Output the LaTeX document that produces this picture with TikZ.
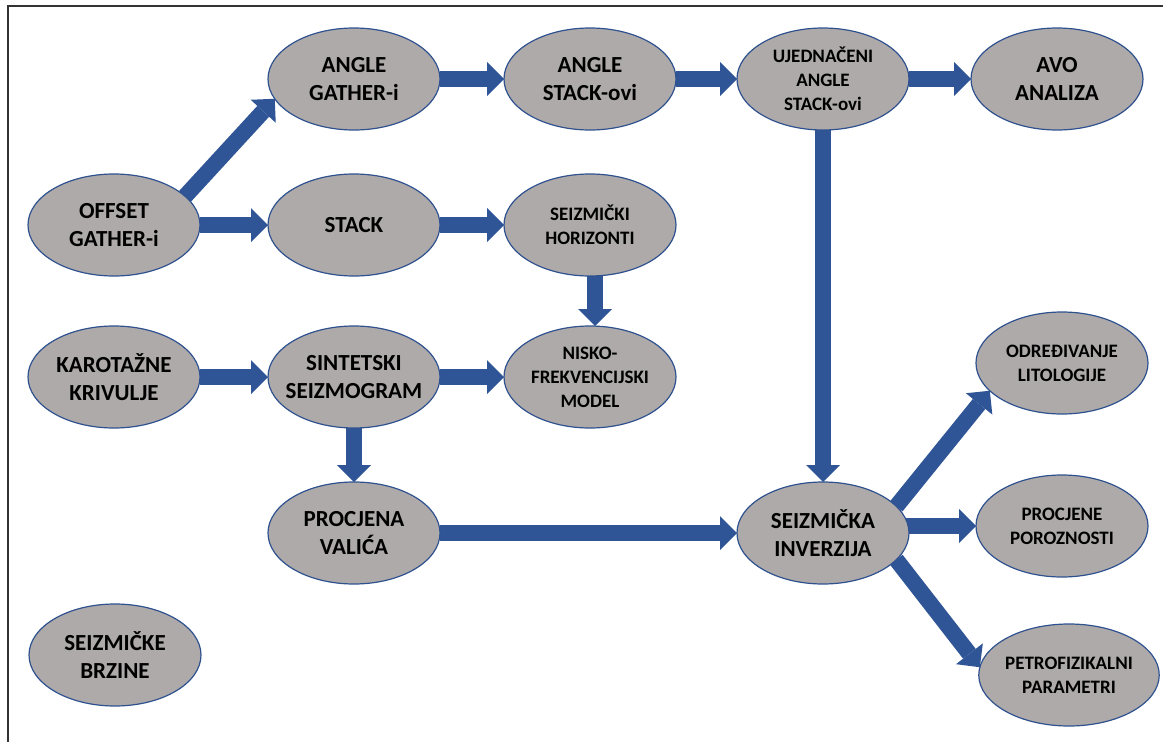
\documentclass[tikz,border=0pt]{standalone}
\usepackage{fontspec}
\setmainfont{Carlito}
\usetikzlibrary{shapes.geometric,arrows.meta,backgrounds}
\definecolor{arrowblue}{HTML}{2F5597}
\definecolor{edgeblue}{HTML}{2F528F}
\definecolor{boxgray}{HTML}{AEAAAA}
\begin{document}
\begin{tikzpicture}[x=1pt,y=-1pt,
  proc/.style={ellipse, draw=edgeblue, fill=boxgray, line width=1.2pt,
    minimum width=172pt, minimum height=102pt, inner sep=0pt, outer sep=0pt,
    align=center, font=\bfseries\fontsize{23}{28}\selectfont},
  small/.style={font=\bfseries\fontsize{19}{24}\selectfont},
  flow/.style={draw=arrowblue, line width=16pt,
    -{Triangle[width=34pt,length=17pt,line width=0pt]}},
  frame/.style={line width=1.3pt, draw=black!80}
]
\useasboundingbox (0,0) rectangle (1163,742);

% row 1
\node[proc] (ag) at (354,79) {ANGLE\\GATHER-i};
\node[proc] (as) at (590,79) {ANGLE\\STACK-ovi};
\node[proc,small] (uj) at (823,79) {UJEDNAČENI\\ANGLE\\STACK-ovi};
\node[proc] (avo) at (1057,79) {AVO\\ANALIZA};
% row 2
\node[proc] (og) at (114,225) {OFFSET\\GATHER-i};
\node[proc] (st) at (354,225) {STACK};
\node[proc,small] (sh) at (590,225) {SEIZMIČKI\\HORIZONTI};
% row 3
\node[proc] (kk) at (114,377) {KAROTAŽNE\\KRIVULJE};
\node[proc,inner xsep=-9pt] (ss) at (354,377) {SINTETSKI\\SEIZMOGRAM};
\node[proc,small] (nm) at (590,377) {NISKO-\\FREKVENCIJSKI\\MODEL};
% row 4
\node[proc] (pv) at (354,533) {PROCJENA\\VALIĆA};
\node[proc] (si) at (823,533) {SEIZMIČKA\\INVERZIJA};
% right column
\node[proc,small] (lit) at (1062,363) {ODREĐIVANJE\\LITOLOGIJE};
\node[proc,small] (por) at (1062,526) {PROCJENE\\POROZNOSTI};
\node[proc,small] (pet) at (1069,675) {PETROFIZIKALNI\\PARAMETRI};
% lone
\node[proc] (brz) at (115,655) {SEIZMIČKE\\BRZINE};

\begin{scope}[on background layer]
\fill[white] (0,0) rectangle (1163,742);
\draw[frame] (8,742) -- (8,6) -- (1163,6);
\draw[flow] (og.22) -- (ag.194);
\draw[flow] (og) -- (st);
\draw[flow] (ag) -- (as);
\draw[flow] (as) -- (uj);
\draw[flow] (uj) -- (avo);
\draw[flow] (st) -- (sh);
\draw[flow] ([xshift=5pt]sh.south) -- ([xshift=5pt]nm.north);
\draw[flow] (kk) -- (ss);
\draw[flow] (ss) -- (nm);
\draw[flow] (ss) -- (pv);
\draw[flow] (pv) -- (si);
\draw[flow] (uj) -- (si);
\draw[flow] (si.20) -- (lit.201);
\draw[flow] (si.center |- por.west) -- (por.west);
\draw[flow] (si.340) -- (pet.175);
\end{scope}
\end{tikzpicture}
\end{document}
